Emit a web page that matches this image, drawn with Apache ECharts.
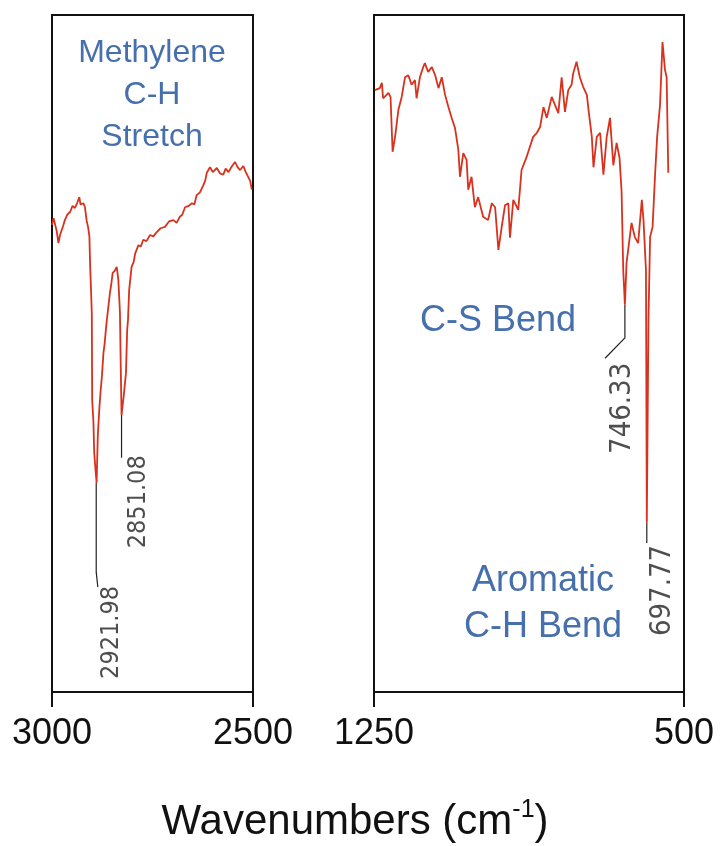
<!DOCTYPE html>
<html>
<head>
<meta charset="utf-8">
<script src="https://cdn.jsdelivr.net/npm/echarts@6/dist/echarts.min.js"></script>
<style>
html, body {margin: 0; padding: 0; background: #fff;}
#main {width: 720px; height: 846px;}
</style>
</head>
<body>
<div id="main"></div>
<script>
// C-H stretch region, 3000 - 2500 cm-1 (transmittance, arbitrary %)
var chWave = [3000, 2996, 2992, 2988, 2984, 2980, 2976, 2972, 2968, 2962, 2955, 2949, 2943, 2937, 2932, 2929, 2926, 2922, 2918, 2914,
    2910, 2907, 2905, 2903, 2901, 2900, 2897, 2895, 2892, 2889, 2886, 2882, 2879, 2876, 2872, 2869, 2866, 2864, 2860, 2856,
    2852, 2849, 2844, 2839, 2835, 2831, 2829, 2827, 2822, 2816, 2813, 2811, 2808, 2802, 2797, 2793, 2789, 2785, 2779, 2773,
    2765, 2756, 2748, 2740, 2730, 2719, 2709, 2698, 2690, 2682, 2676, 2669, 2660, 2652, 2646, 2640, 2632, 2624, 2619, 2615,
    2607, 2600, 2590, 2582, 2574, 2568, 2561, 2553, 2545, 2538, 2532, 2524, 2518, 2512, 2507, 2503];
var chTrans = [69.0, 70.0, 69.0, 68.0, 66.3, 67.5, 68.2, 68.9, 69.7, 70.5, 70.9, 71.8, 71.5, 72.3, 73.1, 72.0, 71.9, 72.2, 71.6, 69.7,
    68.6, 67.3, 62.8, 59.5, 55.9, 43.1, 40.0, 35.3, 33.0, 30.9, 38.0, 42.1, 44.5, 46.5, 50.1, 51.5, 53.5, 54.7, 56.8, 58.9,
    60.5, 61.9, 62.2, 62.8, 60.9, 56.1, 48.0, 40.9, 43.5, 47.1, 53.5, 54.9, 59.4, 62.8, 63.5, 64.8, 65.0, 66.0, 65.8, 66.8,
    66.6, 67.5, 67.3, 67.9, 68.5, 68.7, 69.5, 69.7, 69.3, 70.2, 70.5, 71.6, 71.8, 72.2, 72.0, 73.4, 73.8, 74.8, 75.5, 76.7,
    77.5, 76.8, 77.4, 76.6, 76.4, 77.3, 76.8, 77.6, 78.3, 77.5, 77.1, 77.7, 76.8, 76.1, 75.5, 74.2];

// fingerprint region, 1250 - 500 cm-1
var fpWave = [1248, 1236, 1231, 1228, 1215, 1210, 1205, 1199, 1191, 1183, 1175, 1167, 1159, 1151, 1147, 1139, 1131, 1127, 1119, 1110,
    1102, 1094, 1086, 1078, 1070, 1062, 1054, 1046, 1042, 1034, 1026, 1022, 1014, 1006, 998, 986, 974, 965, 957, 949,
    941, 933, 925, 921, 913, 901, 893, 881, 873, 865, 856, 848, 840, 832, 820, 812, 804, 796, 788, 780,
    772, 768, 760, 752, 744, 735, 731, 723, 719, 711, 703, 695, 687, 679, 671, 663, 656, 651, 647, 643,
    639, 627, 619, 611, 602, 598, 592, 590, 586, 582, 576, 570, 565, 558, 552, 546, 542, 538];
var fpTrans = [88.9, 89.2, 90.0, 87.7, 88.5, 87.9, 79.8, 82.0, 86.0, 87.9, 90.8, 91.1, 89.7, 90.4, 87.7, 90.8, 92.3, 92.9, 91.6, 92.3,
    91.1, 89.2, 90.8, 88.2, 86.4, 84.8, 83.3, 80.1, 76.1, 79.6, 78.6, 74.2, 76.1, 71.6, 73.1, 70.2, 69.7, 72.2, 71.6, 65.3,
    68.7, 71.9, 72.2, 67.1, 72.7, 71.2, 77.1, 79.0, 80.5, 82.0, 82.6, 83.5, 86.4, 84.8, 87.9, 86.7, 85.5, 90.8, 85.7, 88.9,
    89.7, 91.4, 93.1, 90.8, 89.4, 88.2, 86.0, 82.0, 77.5, 82.0, 82.6, 76.4, 82.0, 84.8, 77.8, 81.1, 78.9, 73.9, 62.3, 57.2,
    63.4, 69.3, 67.2, 66.3, 72.7, 69.7, 62.3, 25.0, 55.0, 67.2, 68.7, 76.4, 82.0, 86.7, 96.0, 91.9, 90.8, 76.7];

var leftTicks = [2500, 3000];
var rightTicks = [500, 1250];

// peak leaders [wavenumber, transmittance] and label anchors
var leader2922 = [[2890, 30.9], [2890, 17.7], [2886, 17.7], [2886, 15.5]];
var leader2851 = [[2827, 40.9], [2827, 34.6]];
var leader746 = [[643, 57.2], [643, 52.3], [691, 49.3]];
var leader698 = [[590, 25.0], [590, 22.0]];
var chPeakLabels = ['2921.98', '2851.08'];
var chPeakPos = [[2851, 8.8], [2786, 28.1]];
var fpPeakLabels = ['746.33', '697.77'];
var fpPeakPos = [[650, 41.9], [551, 15.0]];

var RED = '#d8321f';
var BLUE = '#4670ad';
var INK = '#111';
var FONT = "'Liberation Sans', Helvetica, Arial, sans-serif";
var NARROW = "'Liberation Sans Narrow', 'DejaVu Sans Condensed', sans-serif";

function zip(xs, ys) {
    var out = [];
    for (var i = 0; i < xs.length; i++) out.push([xs[i], ys[i]]);
    return out;
}

function xAxisFor(idx, lo, hi, ticks) {
    return {
        gridIndex: idx, type: 'value', inverse: true, min: lo, max: hi,
        axisLine: {show: true, onZero: false, lineStyle: {color: INK, width: 2}},
        axisTick: {show: true, customValues: ticks, length: 15, lineStyle: {color: INK, width: 2}},
        axisLabel: {
            customValues: ticks, fontSize: 36, color: INK, margin: 24, fontFamily: FONT,
            formatter: function (v) { return String(v); }
        },
        splitLine: {show: false}
    };
}

function leaderSeries(idx, pts) {
    return {
        type: 'line', xAxisIndex: idx, yAxisIndex: idx, data: pts, showSymbol: false, silent: true,
        lineStyle: {color: '#222', width: 1.2}, z: 3
    };
}

function peakLabelSeries(idx, names, pos, size, family) {
    var d = [];
    for (var i = 0; i < names.length; i++) d.push({value: pos[i], name: names[i]});
    return {
        type: 'scatter', xAxisIndex: idx, yAxisIndex: idx, symbolSize: 0, data: d, silent: true,
        label: {
            show: true, position: 'inside', rotate: 90, formatter: '{b}',
            fontSize: size, color: '#222', fontFamily: family
        }
    };
}

var myChart = echarts.init(document.getElementById('main'));
var option = {
    animation: false,
    grid: [
        {left: 52, top: 15, width: 201, height: 677, show: true, borderColor: INK, borderWidth: 2},
        {left: 374, top: 15, width: 310, height: 677, show: true, borderColor: INK, borderWidth: 2}
    ],
    xAxis: [xAxisFor(0, 2500, 3000, leftTicks), xAxisFor(1, 500, 1250, rightTicks)],
    yAxis: [
        {gridIndex: 0, type: 'value', min: 0, max: 100, show: false},
        {gridIndex: 1, type: 'value', min: 0, max: 100, show: false}
    ],
    series: [
        {type: 'line', xAxisIndex: 0, yAxisIndex: 0, data: zip(chWave, chTrans), showSymbol: false,
            lineStyle: {color: RED, width: 1.8}, z: 4},
        {type: 'line', xAxisIndex: 1, yAxisIndex: 1, data: zip(fpWave, fpTrans), showSymbol: false,
            lineStyle: {color: RED, width: 1.8}, z: 4},
        leaderSeries(0, leader2922),
        leaderSeries(0, leader2851),
        leaderSeries(1, leader746),
        leaderSeries(1, leader698),
        peakLabelSeries(0, chPeakLabels, chPeakPos, 25, NARROW),
        peakLabelSeries(1, fpPeakLabels, fpPeakPos, 29, NARROW)
    ],
    graphic: [
        {type: 'text', x: 152, y: 95, style: {text: 'Methylene\nC-H\nStretch', fill: BLUE, fontSize: 32, lineHeight: 42,
            fontFamily: FONT, align: 'center', verticalAlign: 'middle'}},
        {type: 'text', x: 498, y: 321, style: {text: 'C-S Bend', fill: BLUE, fontSize: 36,
            fontFamily: FONT, align: 'center', verticalAlign: 'middle'}},
        {type: 'text', x: 543, y: 604, style: {text: 'Aromatic\nC-H Bend', fill: BLUE, fontSize: 36, lineHeight: 46,
            fontFamily: FONT, align: 'center', verticalAlign: 'middle'}},
        {type: 'text', x: 355, y: 822, style: {
            text: '{a|Wavenumbers (cm}{s|-1}{a|)}', align: 'center', verticalAlign: 'middle',
            rich: {
                a: {fontSize: 42, fill: INK, fontFamily: FONT, lineHeight: 48},
                s: {fontSize: 25, fill: INK, fontFamily: FONT, verticalAlign: 'top', lineHeight: 48, padding: [0, 0, 22, 0]}
            }
        }}
    ]
};
myChart.setOption(option);
</script>
</body>
</html>
